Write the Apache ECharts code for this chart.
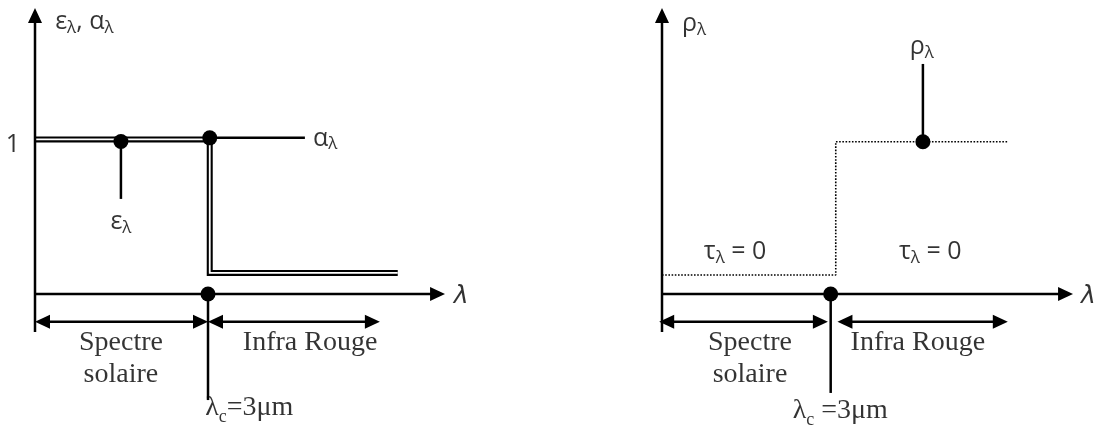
<!DOCTYPE html>
<html><head><meta charset="utf-8">
<script src="https://cdn.jsdelivr.net/npm/echarts@6/dist/echarts.min.js"></script>
<style>html,body{margin:0;padding:0;background:#fff}#c{width:1095px;height:427px}</style>
</head><body><div id="c"></div>
<script>
// ---------- DATA (diagram units: x = wavelength, λc = 3 ; y = property value, 1 = unity) ----------
const lambdaC = 3;

// Left panel : emissivity / absorptivity
const leftAxisY = [[0, -0.246, 0, 1.85]];          // y axis with arrow at the top
const leftAxisX = [[0, 0, 7.11, 0]];                // λ axis with arrow at the right
const epsAlphaX = [0, 3.03, 3.03, 6.29];            // ε_λ = α_λ step (double line)
const epsAlphaY = [1, 1, 0.136, 0.136];
const alphaX = [3.03, 4.68];                        // α_λ leader
const alphaY = [1.01, 1.01];
const leftDotsX = [1.49, 3.03, lambdaC];
const leftDotsY = [0.986, 1.01, 0];
const leftLeaders = [[1.49, 0.986, 1.49, 0.615], [lambdaC, 0, lambdaC, -0.686]];
const leftRanges = [[0, -0.179, lambdaC, -0.179], [lambdaC, -0.179, 5.98, -0.179]];
const leftTextX = [0.35, -0.26, 4.82, 1.49, 7.26, 1.49, 4.77, 2.95];
const leftTextY = [1.753, 0.957, 1.0, 0.46, -0.013, -0.433, -0.33, -0.75];
const leftTexts = ['{g|ε}{s|λ}{g|, α}{s|λ}', '{g|1}', '{g|α}{s|λ}', '{g|ε}{s|λ}', '{it|λ}',
                   '{r|Spectre}\n{r|solaire}', '{r|Infra Rouge}', '{r|λ}{rs|c}{r|=3μm}'];

// Right panel : reflectivity
const rightAxisY = [[0, -0.246, 0, 1.85]];
const rightAxisX = [[0, 0, 7.31, 0]];
const rhoX = [0, 3.09, 3.09, 6.14];                 // ρ_λ step (dotted)
const rhoY = [0.123, 0.123, 0.985, 0.985];
const rightDotsX = [4.64, lambdaC];
const rightDotsY = [0.985, 0];
const rightLeaders = [[4.64, 0.985, 4.64, 1.488], [lambdaC, 0, lambdaC, -0.64]];
const rightRanges = [[-0.05, -0.179, 2.95, -0.179], [3.12, -0.179, 6.15, -0.179]];
const rightTextX = [0.356, 4.62, 1.30, 4.77, 7.45, 1.565, 4.55, 3.17];
const rightTextY = [1.74, 1.59, 0.265, 0.265, -0.013, -0.433, -0.33, -0.77];
const rightTexts = ['{g|ρ}{s|λ}', '{g|ρ}{s|λ}', '{g|τ}{s|λ}{g| = 0}', '{g|τ}{s|λ}{g| = 0}', '{it|λ}',
                    '{r|Spectre}\n{r|solaire}', '{r|Infra Rouge}', '{r|λ}{rs|c}{r| =3μm}'];

// ---------- LAYOUT / STYLE ----------
const W = 1095, H = 427;
const panels = [
  {gridLeft: 0, gridWidth: 545, originX: 35, kx: 57.67},
  {gridLeft: 545, gridWidth: 550, originX: 662, kx: 56.23}
];
const originY = 294, ky = 154.6;
const leftAnchors = ['start', 'end', 'start', 'middle', 'start', 'middle', 'middle', 'start'];
const rightAnchors = ['start', 'middle', 'middle', 'middle', 'start', 'middle', 'middle', 'middle'];
const posOf = {start: 'right', end: 'left', middle: 'inside'};
const rich = {
  g: {fontFamily: 'Open Sans', fontSize: 25, lineHeight: 27, verticalAlign: 'top', color: '#000'},
  s: {fontFamily: 'Open Sans', fontSize: 17, lineHeight: 17, verticalAlign: 'bottom', color: '#000'},
  r: {fontFamily: 'Liberation Serif', fontSize: 28, lineHeight: 32, verticalAlign: 'top', color: '#000'},
  rs: {fontFamily: 'Liberation Serif', fontSize: 18, lineHeight: 18, verticalAlign: 'bottom', color: '#000'},
  it: {fontFamily: 'DejaVu Sans', fontStyle: 'italic', fontSize: 25, color: '#000'}
};

const zip = (xs, ys) => xs.map((x, i) => [x, ys[i]]);

function seg(a, b, w) {
  return {type: 'line', shape: {x1: a[0], y1: a[1], x2: b[0], y2: b[1]}, style: {stroke: '#000', lineWidth: w}};
}
function head(tip, u, L, Wd) {
  const base = [tip[0] - u[0] * L, tip[1] - u[1] * L];
  const n = [-u[1], u[0]];
  return {type: 'polygon', shape: {points: [tip, [base[0] + n[0] * Wd / 2, base[1] + n[1] * Wd / 2], [base[0] - n[0] * Wd / 2, base[1] - n[1] * Wd / 2]]}, style: {fill: '#000'}};
}
function arrowRender(startHead, endHead) {
  return function (params, api) {
    const p1 = api.coord([api.value(0), api.value(1)]);
    const p2 = api.coord([api.value(2), api.value(3)]);
    const dx = p2[0] - p1[0], dy = p2[1] - p1[1];
    const len = Math.hypot(dx, dy) || 1;
    const u = [dx / len, dy / len];
    const L = 15, Wd = 14;
    const a = startHead ? [p1[0] + u[0] * L * 0.8, p1[1] + u[1] * L * 0.8] : p1;
    const b = endHead ? [p2[0] - u[0] * L * 0.8, p2[1] - u[1] * L * 0.8] : p2;
    const children = [seg(a, b, 2.5)];
    if (startHead) children.push(head(p1, [-u[0], -u[1]], L, Wd));
    if (endHead) children.push(head(p2, u, L, Wd));
    return {type: 'group', children};
  };
}
function arrowSeries(idx, data, s, e) {
  return {type: 'custom', xAxisIndex: idx, yAxisIndex: idx, data, encode: {x: [0, 2], y: [1, 3]},
          renderItem: arrowRender(s, e), silent: true, z: 3};
}
function textSeries(idx, xs, ys, texts, anchors) {
  return {type: 'scatter', xAxisIndex: idx, yAxisIndex: idx, symbolSize: 0, silent: true, z: 5,
    data: xs.map((x, i) => ({value: [x, ys[i]], label: {show: true, formatter: texts[i], position: posOf[anchors[i]], distance: 0, rich}}))};
}
function dotSeries(idx, xs, ys) {
  return {type: 'scatter', xAxisIndex: idx, yAxisIndex: idx, symbol: 'circle', symbolSize: 15,
          itemStyle: {color: '#000', opacity: 1}, data: zip(xs, ys), silent: true, z: 6};
}

const grid = panels.map(p => ({left: p.gridLeft, width: p.gridWidth, top: 0, height: H, containLabel: false}));
const xAxis = panels.map((p, i) => ({type: 'value', gridIndex: i, show: false,
  min: (p.gridLeft - p.originX) / p.kx, max: (p.gridLeft + p.gridWidth - p.originX) / p.kx}));
const yAxis = panels.map((p, i) => ({type: 'value', gridIndex: i, show: false,
  min: -(H - originY) / ky, max: originY / ky}));

const series = [
  // left panel
  arrowSeries(0, leftAxisY, false, true),
  arrowSeries(0, leftAxisX, false, true),
  arrowSeries(0, leftRanges, true, true),
  arrowSeries(0, leftLeaders, false, false),
  {type: 'line', xAxisIndex: 0, yAxisIndex: 0, data: zip(epsAlphaX, epsAlphaY), symbol: 'none', silent: true, z: 2,
   lineStyle: {color: '#000', width: 6, join: 'miter'}},
  {type: 'line', xAxisIndex: 0, yAxisIndex: 0, data: zip(epsAlphaX, epsAlphaY), symbol: 'none', silent: true, z: 2,
   lineStyle: {color: '#fff', width: 1.8, join: 'miter'}},
  {type: 'line', xAxisIndex: 0, yAxisIndex: 0, data: zip(alphaX, alphaY), symbol: 'none', silent: true, z: 3,
   lineStyle: {color: '#000', width: 2.5}},
  dotSeries(0, leftDotsX, leftDotsY),
  textSeries(0, leftTextX, leftTextY, leftTexts, leftAnchors),
  // right panel
  arrowSeries(1, rightAxisY, false, true),
  arrowSeries(1, rightAxisX, false, true),
  arrowSeries(1, rightRanges, true, true),
  arrowSeries(1, rightLeaders, false, false),
  {type: 'line', xAxisIndex: 1, yAxisIndex: 1, data: zip(rhoX, rhoY), symbol: 'none', silent: true, z: 2,
   lineStyle: {color: '#000', width: 1.6, type: [1.6, 1.6]}},
  dotSeries(1, rightDotsX, rightDotsY),
  textSeries(1, rightTextX, rightTextY, rightTexts, rightAnchors)
];

const chart = echarts.init(document.getElementById('c'), null, {renderer: 'canvas'});
chart.setOption({animation: false, backgroundColor: '#fff', grid, xAxis, yAxis, series});
</script></body></html>
